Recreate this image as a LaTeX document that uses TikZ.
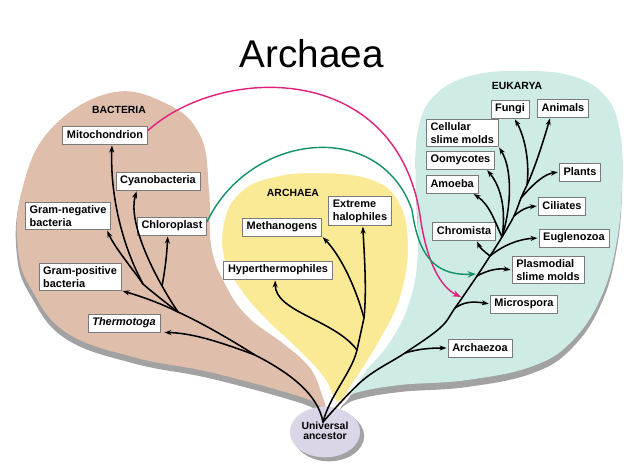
\documentclass[tikz,border=0pt]{standalone}
\usepackage{fontspec}
\setmainfont{Liberation Sans}
\usetikzlibrary{arrows.meta,shapes.geometric}
\definecolor{bactbrown}{HTML}{DFBEAC}
\definecolor{archyellow}{HTML}{FAEA96}
\definecolor{eukteal}{HTML}{CEECE5}
\definecolor{ancestorlilac}{HTML}{DAD6E8}
\definecolor{shadowgray}{HTML}{A2A2A2}
\definecolor{endomagenta}{HTML}{E0207A}
\definecolor{endogreen}{HTML}{12906A}
\definecolor{boxline}{HTML}{7A7A7A}

\begin{document}
\begin{tikzpicture}[
    x=0.025cm, y=-0.025cm,
    taxon/.style={rectangle, draw=boxline, line width=0.5pt, fill=white, font=\fontsize{7.8}{9.2}\selectfont\bfseries, inner xsep=3pt, inner ysep=2pt, minimum height=12.8pt, align=left},
    realmlabel/.style={font=\fontsize{7.4}{9}\selectfont\bfseries, inner sep=0pt},
    treearrow/.style={-{Stealth[length=5pt,width=3.6pt]}, line width=1.1pt, shorten >=0.8pt},
    trunk/.style={line width=1.1pt, line cap=round},
    endo/.style={-{Stealth[length=6pt,width=4.5pt]}, line width=1pt}
]
\useasboundingbox (0,0) rectangle (640,473);

% Title
\node[font=\fontsize{27.5}{30}\selectfont, inner sep=0pt] (title) at (312,53.5) {Archaea};

% Domain shapes
\fill[shadowgray, shift={(-1,6)}] plot[smooth cycle, tension=0.7] coordinates {(110,93) (165,103) (200,135) (209,190) (211,245) (224,282) (247,316) (285,345) (310,368) (322,395) (325,410) (312,401) (285,392) (245,381) (200,370) (133,357) (67,333) (33,292) (18,250) (22,190) (50,130)};
\fill[bactbrown] plot[smooth cycle, tension=0.7] coordinates {(110,93) (165,103) (200,135) (209,190) (211,245) (224,282) (247,316) (285,345) (310,368) (322,395) (325,410) (312,401) (285,392) (245,381) (200,370) (133,357) (67,333) (33,292) (18,250) (22,190) (50,130)};
\fill[shadowgray, shift={(0,7)}] plot[smooth cycle, tension=0.7] coordinates {(520,71) (572,76) (606,97) (620,132) (622,182) (617,240) (602,295) (573,340) (533,366) (467,380) (400,385) (355,393) (340,402) (360,377) (390,342) (410,300) (418,250) (416,180) (418,130) (434,96) (470,76)};
\fill[eukteal] plot[smooth cycle, tension=0.7] coordinates {(520,71) (572,76) (606,97) (620,132) (622,182) (617,240) (602,295) (573,340) (533,366) (467,380) (400,385) (355,393) (340,402) (360,377) (390,342) (410,300) (418,250) (416,180) (418,130) (434,96) (470,76)};
\path[fill=archyellow, draw=white, line width=3pt] plot[smooth cycle, tension=0.7] coordinates {(315,171) (370,177) (400,200) (410,245) (402,298) (382,340) (357,380) (338,404) (322,378) (298,352) (266,322) (240,292) (222,258) (223,218) (240,190) (270,176)};

% Universal ancestor
\node[ellipse, fill=shadowgray, minimum width=50pt, minimum height=36pt] (ancestorshadow) at (329,436) {};
\node[ellipse, fill=ancestorlilac, minimum width=50pt, minimum height=36pt, align=center, font=\fontsize{7.4}{9}\selectfont\bfseries, inner sep=0pt] (ancestor) at (325,432) {\raisebox{-4pt}{\begin{tabular}{@{}c@{}}Universal\\[-1.5pt]ancestor\end{tabular}}};
\coordinate (root) at (323,422);

% Group labels
\node[realmlabel] (bacterialabel) at (119,110) {BACTERIA};
\node[realmlabel] (archaealabel) at (293,193) {ARCHAEA};
\node[realmlabel] (eukaryalabel) at (517,86) {EUKARYA};

% Bacteria
\node[taxon] (mito) at (105,135) {Mitochondrion};
\node[taxon] (cyano) at (158,181) {Cyanobacteria};
\node[taxon] (gneg) at (68,216) {Gram-negative\\bacteria};
\node[taxon] (chloro) at (172,226) {Chloroplast};
\node[taxon] (gpos) at (80,277) {Gram-positive\\bacteria};
\node[taxon, font=\fontsize{7.8}{9.2}\selectfont\bfseries\itshape] (thermo) at (124,323) {Thermotoga};

% Archaea
\node[taxon] (meth) at (282,227) {Methanogens};
\node[taxon] (halo) at (360,211) {Extreme\\halophiles};
\node[taxon] (hyper) at (278,270) {Hyperthermophiles};

% Eukarya
\node[taxon] (fungi) at (510,109) {Fungi};
\node[taxon] (animals) at (563,108) {Animals};
\node[taxon, anchor=west] (cell) at (426,133) {Cellular\\slime molds};
\node[taxon, anchor=west] (oomy) at (426,160) {Oomycotes};
\node[taxon, anchor=west] (amoeba) at (426,184) {Amoeba};
\node[taxon] (plants) at (580,172) {Plants};
\node[taxon] (cil) at (562,206) {Ciliates};
\node[taxon] (chrom) at (464,231) {Chromista};
\node[taxon] (eugl) at (574,238) {Euglenozoa};
\node[taxon] (plasmo) at (548,270) {Plasmodial\\slime molds};
\node[taxon] (micro) at (524,304) {Microspora};
\node[taxon] (arch) at (480,348) {Archaezoa};

% Bacteria tree
\coordinate (bt) at (255,355);
\coordinate (b1) at (178,312);
\coordinate (b2) at (143,284);
\coordinate (b3) at (162,286);
\draw[trunk] (root) .. controls (318,395) and (292,374) .. (bt) .. controls (228,338) and (200,322) .. (b1);
\draw[treearrow, shorten >=3pt] (bt) .. controls (215,340) and (190,333) .. (thermo.south east);
\draw[treearrow] (b1) .. controls (160,303) and (140,296) .. (gpos.south east);
\draw[trunk] (b1) .. controls (165,302) and (152,292) .. (b2);
\draw[treearrow] (b2) .. controls (122,245) and (110,195) .. ([xshift=5pt]mito.south);
\draw[treearrow] (b2) .. controls (132,268) and (115,248) .. ([xshift=-3pt]gneg.south east);
\draw[treearrow] (b1) .. controls (150,270) and (128,220) .. ([xshift=-15pt]cyano.south);
\draw[treearrow] (b3) .. controls (166,265) and (167,250) .. ([xshift=-3pt]chloro.south);

% Archaea tree
\coordinate (a2) at (357,350);
\coordinate (a1) at (364,318);
\draw[trunk] (root) .. controls (330,395) and (352,372) .. (a2) -- (a1);
\draw[treearrow] (a2) .. controls (335,320) and (275,312) .. ([xshift=-2pt]hyper.south);
\draw[treearrow] (a1) .. controls (355,285) and (340,255) .. (meth.south east);
\draw[treearrow] (a1) .. controls (367,290) and (364,250) .. ([xshift=2pt]halo.south);

% Eukarya tree
\coordinate (e1) at (405,353);
\coordinate (e2) at (455,308);
\coordinate (e3) at (477,276);
\coordinate (e4) at (490,256);
\coordinate (e5) at (502,237);
\coordinate (e6) at (514,216);
\coordinate (e7) at (521,198);
\coordinate (e8) at (527,185);
\draw[trunk] plot[smooth, tension=0.6] coordinates {(root) (363,380) (e1) (440,328) (e2) (e3) (e4) (e5) (e6) (e7) (e8)};
\draw[treearrow] (e1) .. controls (418,349) and (430,348) .. (arch.west);
\draw[treearrow] (e2) .. controls (464,302) and (472,301) .. (micro.west);
\draw[treearrow] (e3) .. controls (488,270) and (498,268) .. (plasmo.west);
\draw[treearrow] (e4) .. controls (485,252) and (480,248) .. ([xshift=9pt]chrom.south);
\draw[treearrow] (e4) .. controls (505,244) and (520,239) .. (eugl.west);
\draw[treearrow] (e5) .. controls (495,222) and (490,205) .. ([xshift=-4pt]amoeba.south east);
\draw[treearrow] (e5) .. controls (506,212) and (502,188) .. ([xshift=-6pt]oomy.south east);
\draw[treearrow] (e5) .. controls (512,205) and (512,168) .. (cell.south east);
\draw[treearrow] (e6) .. controls (521,210) and (527,207) .. (cil.west);
\draw[treearrow] (e7) .. controls (535,182) and (545,174) .. (plants.west);
\draw[treearrow] (e8) .. controls (530,160) and (524,135) .. ([xshift=3pt]fungi.south);
\draw[treearrow] (e8) .. controls (536,165) and (543,142) .. ([xshift=-9pt]animals.south);

% Endosymbiosis
\coordinate (mitoin) at (461,297);
\coordinate (chloroin) at (476,274);
\draw[endo, endomagenta] ([yshift=3pt]mito.east) .. controls (220,65) and (395,60) .. (420,215) .. controls (426,260) and (440,287) .. (mitoin);
\draw[endo, endogreen] ([yshift=3pt]chloro.east) .. controls (250,132) and (380,118) .. (412,210) .. controls (418,252) and (432,276) .. (chloroin);

\end{tikzpicture}
\end{document}
